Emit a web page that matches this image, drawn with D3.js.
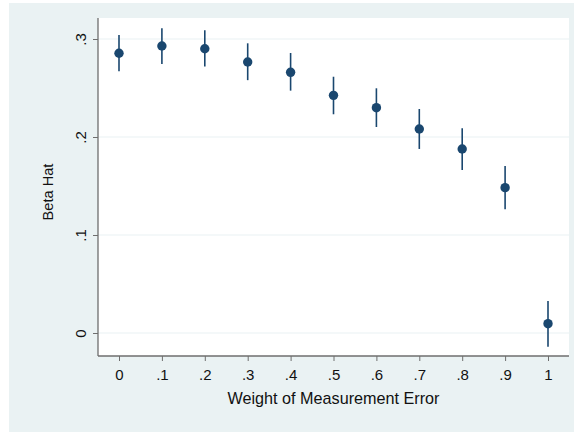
<!DOCTYPE html>
<html>
<head>
<meta charset="utf-8">
<script src="https://cdn.jsdelivr.net/npm/d3@7"></script>
<style>
  body { margin: 0; background: #fff; }
  text { font-family: "Liberation Sans", Arial, sans-serif; fill: #111; }
</style>
</head>
<body>
<div class="chart"></div>
<script>
// weights of measurement error
const weights = [0, .1, .2, .3, .4, .5, .6, .7, .8, .9, 1];
// beta hat estimates and confidence bounds
const betaHat = [0.2855, 0.2929, 0.2900, 0.2765, 0.2660, 0.2425, 0.2299, 0.2082, 0.1878, 0.1483, 0.0095];
const ciLow   = [0.2670, 0.2745, 0.2720, 0.2580, 0.2473, 0.2232, 0.2102, 0.1878, 0.1663, 0.1262, -0.0140];
const ciHigh  = [0.3040, 0.3110, 0.3090, 0.2956, 0.2857, 0.2615, 0.2497, 0.2286, 0.2089, 0.1704, 0.0327];
const xTicks = [0, .1, .2, .3, .4, .5, .6, .7, .8, .9, 1];
const yTicks = [0, .1, .2, .3];

const width = 574, height = 433;
const plot = {left: 98, right: 569, top: 18, bottom: 356};

const svg = d3.select(".chart").append("svg")
    .attr("width", width)
    .attr("height", height);

// outer graph region
svg.append("rect")
    .attr("x", 9).attr("y", 3)
    .attr("width", width - 9).attr("height", 429)
    .attr("fill", "#EAF2F3");

// plot region
svg.append("rect")
    .attr("x", plot.left).attr("y", plot.top)
    .attr("width", plot.right - plot.left).attr("height", plot.bottom - plot.top)
    .attr("fill", "#fff");

const xScale = d3.scaleLinear()
    .domain([0, 1])
    .range([119, 548]);

const yScale = d3.scaleLinear()
    .domain([0, .3])
    .range([333, 39]);

const fmt = d => d === 0 ? "0" : d === 1 ? "1" : d3.format(".1f")(d).replace(/^0/, "");

// gridlines
svg.append("g").selectAll("line")
    .data(yTicks)
    .enter()
    .append("line")
    .attr("x1", plot.left).attr("x2", plot.right)
    .attr("y1", d => yScale(d)).attr("y2", d => yScale(d))
    .attr("stroke", "#EAF2F3")
    .attr("stroke-width", 1.2);

const xAxis = d3.axisBottom(xScale)
    .tickValues(xTicks)
    .tickFormat(fmt)
    .tickSize(5)
    .tickSizeOuter(0)
    .tickPadding(8);

const yAxis = d3.axisLeft(yScale)
    .tickValues(yTicks)
    .tickFormat(fmt)
    .tickSize(5)
    .tickSizeOuter(0);

const gx = svg.append("g")
    .attr("class", "axis x-axis")
    .attr("transform", `translate(0, ${plot.bottom})`)
    .call(xAxis);
gx.select(".domain").attr("d", `M${plot.left},0H${plot.right}`);

const gy = svg.append("g")
    .attr("class", "axis y-axis")
    .attr("transform", `translate(${plot.left}, 0)`)
    .call(yAxis);
gy.select(".domain").attr("d", `M0,${plot.top}V${plot.bottom}`);

svg.selectAll(".axis .domain").attr("stroke", "#6e6e6e").attr("stroke-width", 1.3);
svg.selectAll(".axis .tick line").attr("stroke", "#6e6e6e");
svg.selectAll(".axis text")
    .attr("font-size", 15)
    .attr("font-family", "Liberation Sans, Arial, sans-serif")
    .attr("fill", "#111");

// rotate y tick labels
gy.selectAll(".tick text")
    .attr("x", null).attr("dy", null)
    .attr("text-anchor", "middle")
    .attr("transform", "translate(-17,0) rotate(-90)")
    .attr("dy", "0.35em");

// axis titles
svg.append("text")
    .attr("x", 333.5)
    .attr("y", 404)
    .attr("text-anchor", "middle")
    .attr("font-size", 16.2)
    .text("Weight of Measurement Error");

svg.append("text")
    .attr("transform", "translate(53, 192) rotate(-90)")
    .attr("text-anchor", "middle")
    .attr("font-size", 14.6)
    .text("Beta Hat");

// error bars
svg.append("g").selectAll("line")
    .data(weights)
    .enter()
    .append("line")
    .attr("x1", d => xScale(d)).attr("x2", d => xScale(d))
    .attr("y1", (d, i) => yScale(ciLow[i]))
    .attr("y2", (d, i) => yScale(ciHigh[i]))
    .attr("stroke", "#1A476F")
    .attr("stroke-width", 1.6);

// points
svg.append("g").selectAll("circle")
    .data(weights)
    .enter()
    .append("circle")
    .attr("cx", d => xScale(d))
    .attr("cy", (d, i) => yScale(betaHat[i]))
    .attr("r", 4.7)
    .attr("fill", "#1A476F");
</script>
</body>
</html>
